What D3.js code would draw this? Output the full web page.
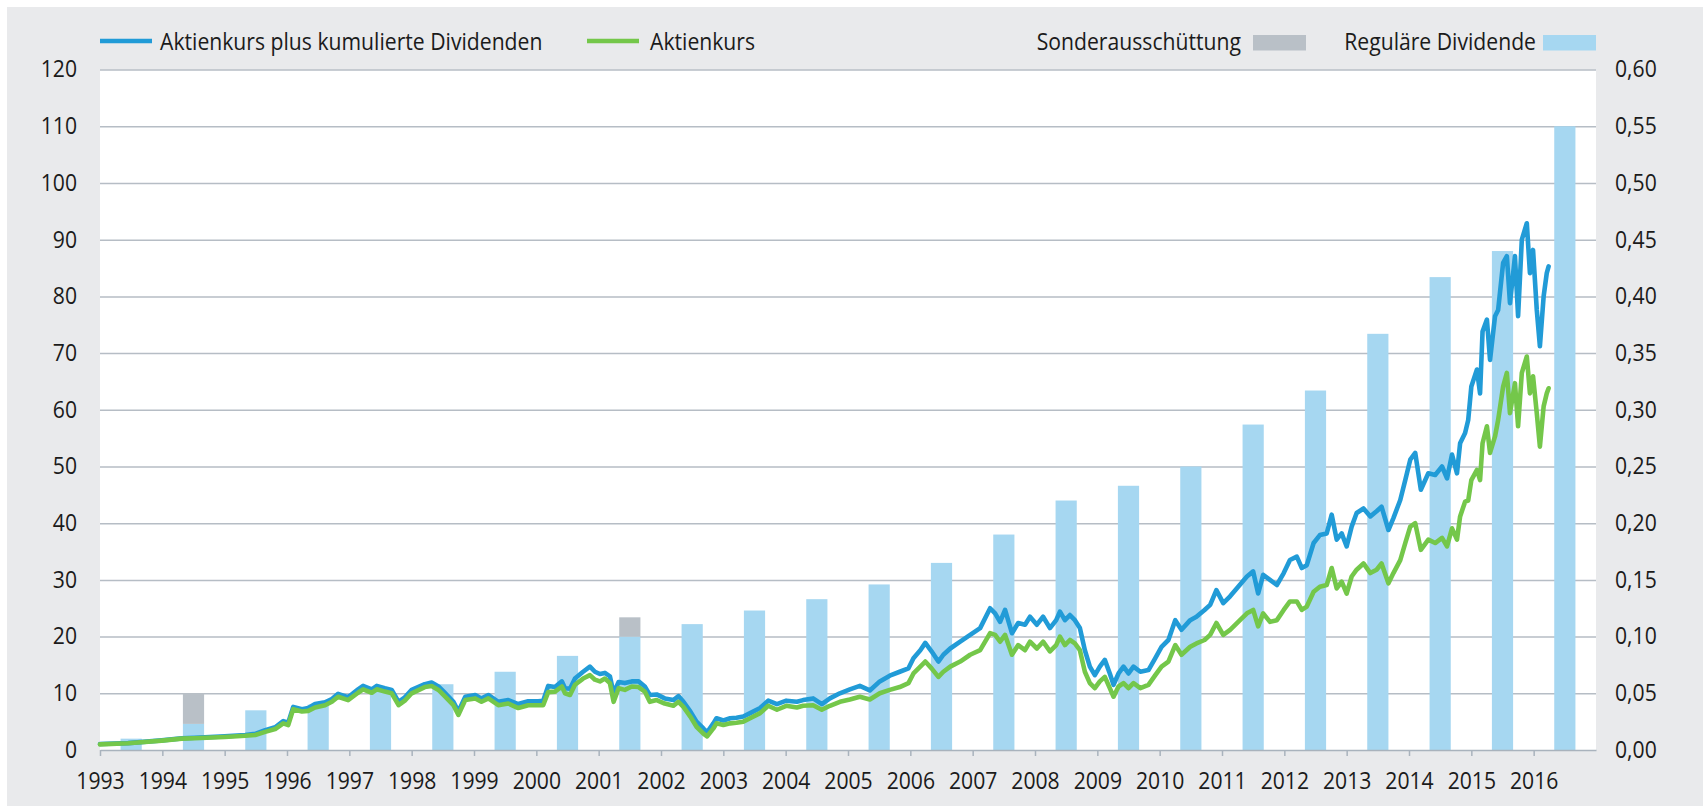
<!DOCTYPE html>
<html>
<head>
<meta charset="utf-8">
<script src="https://cdn.jsdelivr.net/npm/d3@7"></script>
<style>
  html, body { margin: 0; padding: 0; background: #ffffff; }
  svg { display: block; }
  text { font-family: 'Open Sans', sans-serif; fill: #1b1b1b; }
</style>
</head>
<body>
<svg id="chart" width="1703" height="806"></svg>
<script>
// ---------------- DATA ----------------
const years = [1993,1994,1995,1996,1997,1998,1999,2000,2001,2002,2003,2004,2005,2006,2007,2008,2009,2010,2011,2012,2013,2014,2015,2016];
const regularDividend = [0.010,0.023,0.035,0.040,0.053,0.058,0.069,0.083,0.100,0.111,0.123,0.133,0.146,0.165,0.190,0.220,0.233,0.250,0.287,0.317,0.367,0.417,0.440,0.550];
const specialDividend = [0,0.027,0,0,0,0,0,0,0.017,0,0,0,0,0,0,0,0,0,0,0,0,0,0,0];
const leftTicks = [0,10,20,30,40,50,60,70,80,90,100,110,120];
const rightTicks = [0,0.05,0.10,0.15,0.20,0.25,0.30,0.35,0.40,0.45,0.50,0.55,0.60];
const legendLabels = ["Aktienkurs plus kumulierte Dividenden","Aktienkurs","Sonderausschüttung","Reguläre Dividende"];

const dates = [
1993.00,1993.45,1993.99,1994.31,1994.52,1995.00,1995.33,1995.49,1995.65,1995.81,1995.94,1996.02,1996.10,1996.24,1996.34,1996.45,1996.61,1996.72,1996.82,1996.98,
1997.14,1997.22,1997.36,1997.44,1997.57,1997.68,1997.79,1997.89,1998.00,1998.21,1998.32,1998.43,1998.53,1998.67,1998.75,1998.86,
1999.02,1999.12,1999.23,1999.39,1999.55,1999.71,1999.87,2000.03,2000.11,2000.19,2000.30,2000.41,2000.46,2000.54,2000.62,2000.75,2000.86,2000.94,
2001.02,2001.10,2001.18,2001.24,2001.32,2001.42,2001.53,2001.64,2001.74,2001.82,2001.93,2002.06,2002.20,2002.28,2002.36,2002.47,2002.57,2002.68,2002.74,2002.84,2002.89,
2003.00,2003.11,2003.21,2003.32,2003.43,2003.59,2003.72,2003.86,2004.01,2004.18,2004.28,2004.44,2004.58,2004.71,2004.87,
2005.03,2005.19,2005.35,2005.51,2005.67,2005.83,2005.97,2006.05,2006.16,2006.24,2006.34,2006.45,2006.53,2006.64,2006.80,2006.96,2007.12,2007.28,
2007.36,2007.44,2007.52,2007.63,2007.73,2007.84,2007.92,2008.03,2008.13,2008.24,2008.34,2008.40,2008.48,2008.56,2008.64,2008.72,2008.80,2008.88,2008.96,
2009.04,2009.12,2009.20,2009.26,2009.34,2009.42,2009.50,2009.58,2009.69,2009.82,2009.93,2010.03,2010.14,2010.25,2010.35,2010.49,2010.59,2010.72,2010.81,2010.91,
2011.02,2011.13,2011.26,
2011.40,2011.50,2011.58,2011.66,2011.77,2011.88,2011.99,2012.09,2012.20,2012.28,2012.36,2012.47,2012.57,2012.68,2012.76,2012.84,2012.92,2013.00,2013.08,2013.16,2013.27,2013.38,2013.48,2013.56,2013.67,2013.75,2013.86,2013.94,2014.02,2014.10,
2014.19,2014.31,2014.42,2014.53,2014.61,2014.69,2014.77,2014.82,2014.90,2014.95,2015.00,2015.09,2015.14,2015.18,2015.25,2015.30,2015.38,2015.43,2015.51,2015.57,2015.62,2015.70,2015.75,2015.81,2015.89,2015.94,2015.99,2016.05,2016.10,2016.16,2016.21,2016.24];

const kursPlusDividenden = [
1.05,1.22,1.7,2.05,2.15,2.4,2.65,2.85,3.5,4.0,5.1,4.8,7.6,7.2,7.4,8.1,8.4,9.0,9.9,9.3,
10.7,11.3,10.7,11.3,10.9,10.6,8.5,9.3,10.6,11.6,11.9,11.2,10.1,8.5,6.8,9.4,
9.7,9.1,9.7,8.5,8.8,8.1,8.6,8.6,8.7,11.3,11.1,12.1,10.9,10.8,12.6,13.8,14.7,13.8,
13.4,13.6,13.0,10.0,12.0,11.8,12.1,12.1,11.2,9.7,9.8,9.1,8.8,9.5,8.5,6.8,5.0,3.8,3.1,4.7,5.6,
5.2,5.6,5.7,5.9,6.5,7.4,8.7,8.1,8.7,8.5,8.8,9.1,8.1,9.1,10.0,
10.7,11.3,10.5,12.1,13.1,13.8,14.4,16.2,17.6,18.9,17.4,15.6,16.8,17.9,19.1,20.3,21.5,25.0,
24.1,22.6,24.7,20.6,22.4,22.1,23.5,22.1,23.5,21.5,22.9,24.4,22.9,23.8,22.9,21.5,17.6,14.7,13.2,
14.7,15.9,13.5,11.5,13.5,14.7,13.5,14.7,13.8,14.1,16.2,18.2,19.4,22.9,21.2,22.9,23.5,24.7,25.6,28.2,
25.9,27.1,28.8,
30.6,31.5,27.6,30.9,30.0,29.1,31.2,33.5,34.1,32.1,32.6,36.5,37.9,38.2,41.5,37.1,38.2,35.9,39.4,41.8,42.6,41.2,42.1,42.9,38.8,40.9,44.1,47.6,51.2,52.4,
45.9,48.8,48.5,50.0,47.9,52.1,48.8,54.1,55.9,58.2,64.1,67.1,62.9,73.8,75.9,68.8,76.5,77.6,85.9,87.1,78.8,87.1,76.5,90.0,92.9,84.1,88.2,77.6,71.2,80.0,84.1,85.3];

const aktienkurs = [
1.0,1.18,1.65,2.0,2.06,2.3,2.5,2.65,3.2,3.7,4.7,4.4,7.2,6.8,6.9,7.5,7.9,8.5,9.4,8.8,
10.1,10.7,10.1,10.7,10.3,10.0,7.9,8.7,10.0,11.1,11.3,10.6,9.5,7.9,6.2,8.8,
9.1,8.5,9.1,7.9,8.2,7.4,7.9,7.9,7.9,10.2,10.3,11.2,10.0,9.7,11.5,12.6,13.2,12.4,
12.1,12.6,11.8,8.5,10.9,10.6,11.2,11.1,10.3,8.5,8.8,8.2,7.8,8.5,7.6,5.9,4.1,2.9,2.4,3.8,4.7,
4.4,4.7,4.8,5.0,5.6,6.5,7.8,7.1,7.8,7.5,7.8,7.9,7.1,7.8,8.5,
8.9,9.4,8.9,10.0,10.6,11.1,11.8,13.5,14.7,15.6,14.4,12.9,13.8,14.7,15.6,16.8,17.6,20.6,
20.3,19.1,20.3,16.8,18.5,17.6,19.1,17.9,19.1,17.4,18.5,20.0,18.5,19.4,18.8,17.6,13.8,11.8,10.9,
12.1,12.9,10.9,9.4,11.2,11.8,10.9,11.8,10.9,11.5,13.2,14.7,15.6,18.5,16.8,18.2,18.8,19.4,20.3,22.4,
20.3,21.2,22.6,
24.1,24.7,21.8,24.1,22.6,22.9,24.7,26.2,26.2,24.7,25.3,27.9,28.8,29.1,32.1,28.5,29.7,27.6,30.6,31.8,32.9,31.2,31.8,32.9,29.4,31.2,33.5,36.5,39.4,40.0,
35.3,37.1,36.5,37.4,35.9,39.1,37.1,41.2,43.8,44.0,47.6,49.4,47.6,54.1,57.1,52.4,55.3,58.2,64.1,66.5,59.4,64.7,57.1,66.5,69.4,62.9,65.9,59.4,53.5,60.6,62.9,63.8];

// ---------------- LAYOUT ----------------
const M = { left: 100, right: 1596, top: 69.6, bottom: 750 };
const FONT = 23, SQUEEZE = 0.92;
const C = {
  bg: "#e9eaec", grid: "#b6bdc5", axis: "#a9b3bd",
  blue: "#219bd7", green: "#74c74a", barReg: "#a6d7f1", barSpec: "#b9c0c7"
};

const svg = d3.select("#chart");

const x = d3.scaleLinear().domain([1993, 2017]).range([M.left, M.right]);
const xb = d3.scaleBand().domain(years).range([M.left, M.right]).paddingInner(0.66).paddingOuter(0.33);
const yL = d3.scaleLinear().domain([0, 120]).range([M.bottom, M.top]);
const yR = d3.scaleLinear().domain([0, 0.6]).range([M.bottom, M.top]);

// background
svg.append("rect").attr("x", 7).attr("y", 7).attr("width", 1703 - 7).attr("height", 806 - 7).attr("fill", C.bg);
svg.append("rect").attr("x", M.left).attr("y", M.top).attr("width", M.right - M.left).attr("height", M.bottom - M.top).attr("fill", "#fff");

// gridlines
const grid = svg.append("g").attr("transform", `translate(${M.left},0)`)
  .call(d3.axisLeft(yL).tickValues(leftTicks.filter(d => d > 0)).tickSize(-(M.right - M.left)).tickFormat(""));
grid.select(".domain").remove();
grid.selectAll("line").attr("stroke", C.grid).attr("stroke-width", 1.5);

// bars
const barData = years.map((y, i) => ({ year: y, reg: regularDividend[i], spec: specialDividend[i] }));
svg.append("g").selectAll("rect").data(barData).join("rect")
  .attr("x", d => xb(d.year)).attr("width", xb.bandwidth())
  .attr("y", d => yR(d.reg)).attr("height", d => yR(0) - yR(d.reg))
  .attr("fill", C.barReg);
svg.append("g").selectAll("rect").data(barData.filter(d => d.spec > 0)).join("rect")
  .attr("x", d => xb(d.year)).attr("width", xb.bandwidth())
  .attr("y", d => yR(d.reg + d.spec)).attr("height", d => yR(d.reg) - yR(d.reg + d.spec))
  .attr("fill", C.barSpec);

// lines
const blueData = dates.map((t, i) => ({ t, v: kursPlusDividenden[i] }));
const greenData = dates.map((t, i) => ({ t, v: aktienkurs[i] }));
const line = d3.line().x(d => x(d.t)).y(d => yL(d.v));
svg.append("path").datum(blueData).attr("d", line).attr("fill", "none")
  .attr("stroke", C.blue).attr("stroke-width", 4.6).attr("stroke-linejoin", "round").attr("stroke-linecap", "round");
svg.append("path").datum(greenData).attr("d", line).attr("fill", "none")
  .attr("stroke", C.green).attr("stroke-width", 4.6).attr("stroke-linejoin", "round").attr("stroke-linecap", "round");

// axes
const leftAxis = svg.append("g").attr("transform", `translate(${M.left},0)`)
  .call(d3.axisLeft(yL).tickValues(leftTicks).tickSize(0).tickPadding(23));
leftAxis.select(".domain").remove();

const fmtR = d => d3.format(".2f")(d).replace(".", ",");
const rightAxis = svg.append("g").attr("transform", `translate(${M.right},0)`)
  .call(d3.axisRight(yR).tickValues(rightTicks).tickSize(0).tickPadding(19).tickFormat(fmtR));
rightAxis.select(".domain").remove();

const bottomAxis = svg.append("g").attr("transform", `translate(0,${M.bottom})`)
  .call(d3.axisBottom(x).tickValues(years).tickFormat(d => String(d)).tickSize(6).tickSizeOuter(0).tickPadding(17));
bottomAxis.select(".domain").attr("stroke", C.axis).attr("stroke-width", 1.5);
bottomAxis.selectAll(".tick line").attr("stroke", C.axis).attr("stroke-width", 1.5);

[leftAxis, rightAxis, bottomAxis].forEach(g => {
  g.attr("font-size", FONT).attr("font-family", "'Open Sans', sans-serif");
  g.selectAll("text").attr("fill", "#1b1b1b");
});

// legend
const lg = svg.append("g").attr("font-size", FONT);
const legY = 41, legBase = 50;
lg.append("line").attr("x1", 100).attr("x2", 152).attr("y1", legY).attr("y2", legY).attr("stroke", C.blue).attr("stroke-width", 4.5);
lg.append("text").attr("x", 160).attr("y", legBase).text(legendLabels[0]);
lg.append("line").attr("x1", 587).attr("x2", 639).attr("y1", legY).attr("y2", legY).attr("stroke", C.green).attr("stroke-width", 4.5);
lg.append("text").attr("x", 650).attr("y", legBase).text(legendLabels[1]);
lg.append("text").attr("x", 1241).attr("y", legBase).attr("text-anchor", "end").text(legendLabels[2]);
lg.append("rect").attr("x", 1253).attr("y", 35).attr("width", 53).attr("height", 15.5).attr("fill", C.barSpec);
lg.append("text").attr("x", 1536).attr("y", legBase).attr("text-anchor", "end").text(legendLabels[3]);
lg.append("rect").attr("x", 1543).attr("y", 35).attr("width", 53).attr("height", 15.5).attr("fill", C.barReg);

// slight horizontal condensing of all text to match the narrow typeface
svg.selectAll("text").each(function () {
  const w = this.getComputedTextLength();
  if (w > 0) d3.select(this).attr("textLength", w * SQUEEZE).attr("lengthAdjust", "spacingAndGlyphs");
});
</script>
</body>
</html>
